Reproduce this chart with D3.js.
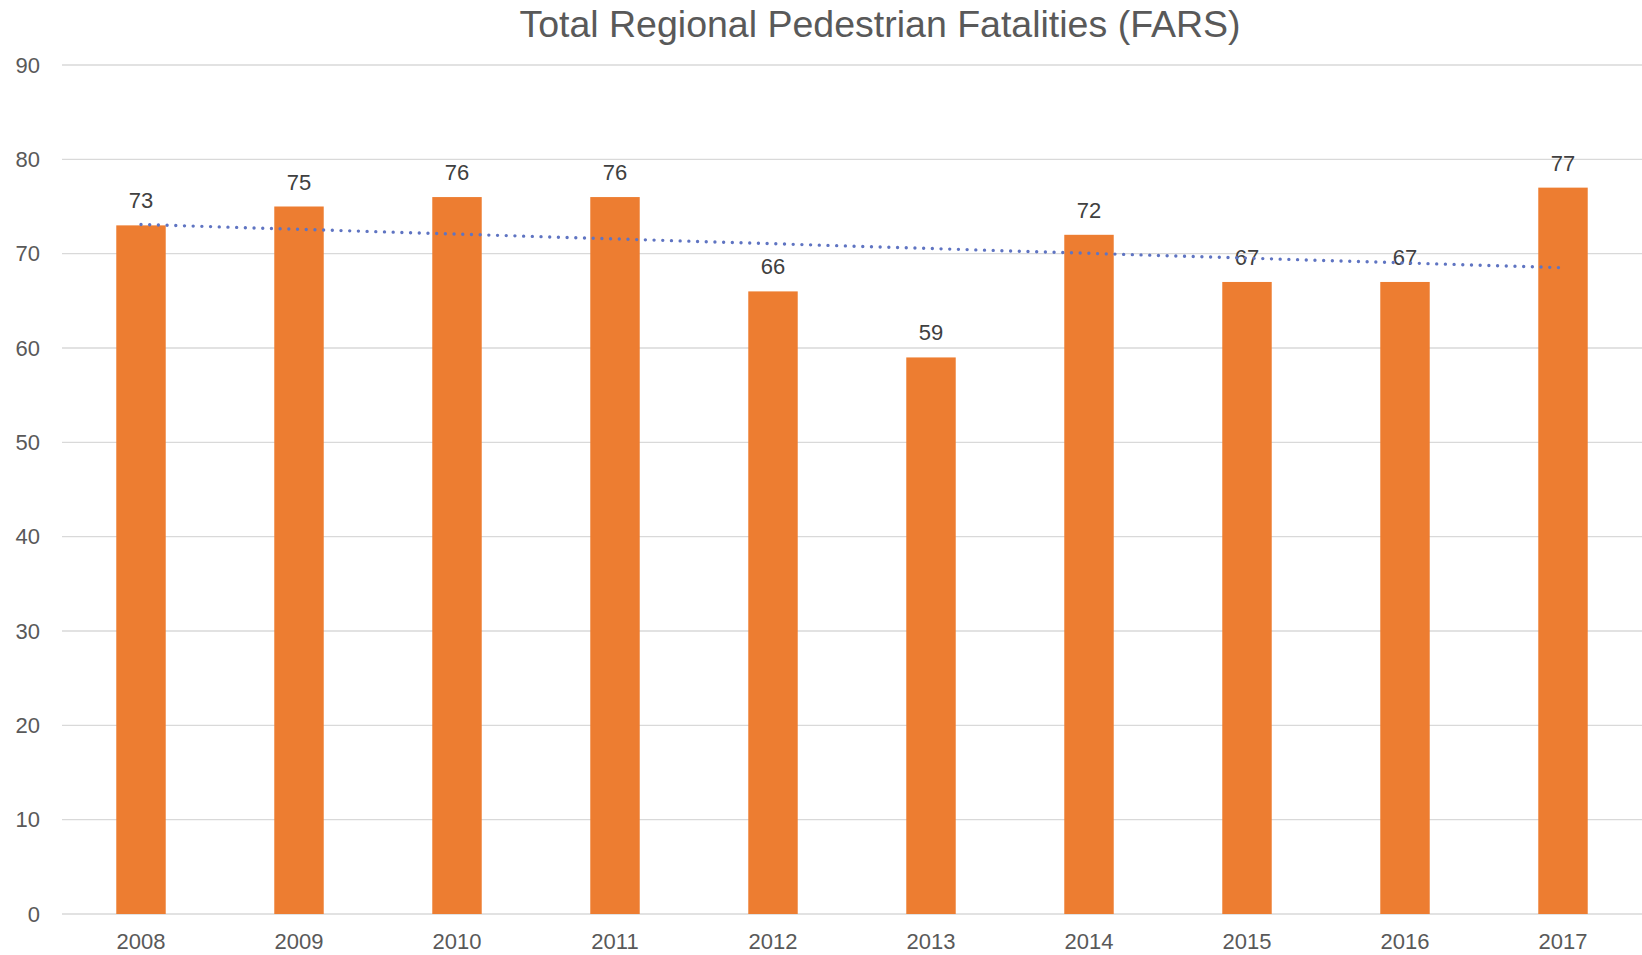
<!DOCTYPE html>
<html>
<head>
<meta charset="utf-8">
<script src="https://cdn.jsdelivr.net/npm/d3@7"></script>
<style>
  html, body { margin: 0; padding: 0; background: #fff; }
  text { font-family: "Liberation Sans", Arial, sans-serif; }
</style>
</head>
<body>
<div id="chart"></div>
<script>
// Chart data
const years = ["2008", "2009", "2010", "2011", "2012", "2013", "2014", "2015", "2016", "2017"];
const fatalities = [73, 75, 76, 76, 66, 59, 72, 67, 67, 77];
const yTicks = [0, 10, 20, 30, 40, 50, 60, 70, 80, 90];

const W = 1642, H = 955;
const margin = {top: 65, right: 0, bottom: 41, left: 62},
    width = W - margin.left - margin.right,
    height = H - margin.top - margin.bottom;

const svg = d3.select("#chart")
    .append("svg")
    .attr("width", W)
    .attr("height", H);

const g = svg.append("g")
    .attr("transform", `translate(${margin.left},${margin.top})`);

// scales
const x = d3.scaleBand()
    .domain(years)
    .range([0, width])
    .paddingInner(0.687)
    .paddingOuter(0.3435);

const y = d3.scaleLinear()
    .domain([0, 90])
    .range([height, 0]);

// gridlines
g.append("g")
    .selectAll("line")
    .data(yTicks)
    .join("line")
    .attr("x1", 0)
    .attr("x2", width)
    .attr("y1", d => y(d))
    .attr("y2", d => y(d))
    .attr("stroke", "#d9d9d9")
    .attr("stroke-width", 1.3);

// y axis labels
const yAxis = g.append("g")
    .call(d3.axisLeft(y).tickValues(yTicks).tickSize(0).tickPadding(22));
yAxis.select(".domain").remove();
yAxis.selectAll("text")
    .style("font", "22px 'Liberation Sans', Arial, sans-serif")
    .attr("fill", "#595959");

// x axis labels
const xAxis = g.append("g")
    .attr("transform", `translate(0,${height})`)
    .call(d3.axisBottom(x).tickSize(0).tickPadding(19.5));
xAxis.select(".domain").remove();
xAxis.selectAll("text")
    .style("font", "22px 'Liberation Sans', Arial, sans-serif")
    .attr("fill", "#595959");

// bars
g.append("g")
    .selectAll("rect")
    .data(fatalities)
    .join("rect")
    .attr("x", (d, i) => x(years[i]))
    .attr("y", d => y(d))
    .attr("width", x.bandwidth())
    .attr("height", d => height - y(d))
    .attr("fill", "#ED7D31");

// data labels
g.append("g")
    .selectAll("text")
    .data(fatalities)
    .join("text")
    .attr("x", (d, i) => x(years[i]) + x.bandwidth() / 2)
    .attr("y", d => y(d) - 17)
    .attr("text-anchor", "middle")
    .style("font", "22px 'Liberation Sans', Arial, sans-serif")
    .attr("fill", "#404040")
    .text(d => d);

// linear trendline (least squares)
const n = fatalities.length;
const mx = d3.mean(fatalities, (d, i) => i);
const my = d3.mean(fatalities);
const slope = d3.sum(fatalities, (d, i) => (i - mx) * (d - my)) / d3.sum(fatalities, (d, i) => (i - mx) * (i - mx));
const intercept = my - slope * mx;

const trend = d3.line()
    .x(d => x(years[d]) + x.bandwidth() / 2)
    .y(d => y(intercept + slope * d));

g.append("path")
    .datum([0, n - 1])
    .attr("fill", "none")
    .attr("stroke", "#5f74c2")
    .attr("stroke-width", 3.4)
    .attr("stroke-linecap", "round")
    .attr("stroke-dasharray", "0,8.7")
    .attr("d", trend);

// title
svg.append("text")
    .attr("x", 880)
    .attr("y", 36.5)
    .attr("text-anchor", "middle")
    .style("font", "37.5px 'Liberation Sans', Arial, sans-serif")
    .attr("fill", "#595959")
    .text("Total Regional Pedestrian Fatalities (FARS)");
</script>
</body>
</html>
